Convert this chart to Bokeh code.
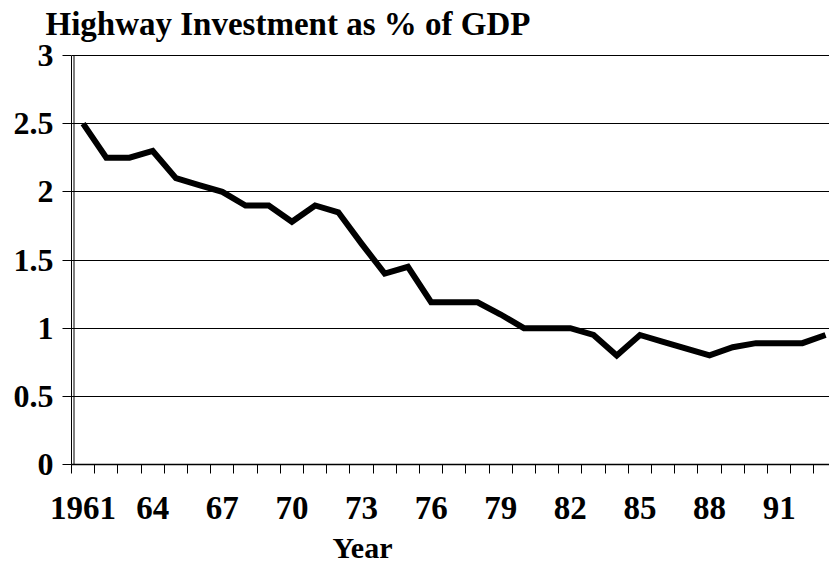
from bokeh.plotting import figure
from bokeh.models import FixedTicker, Range1d, Title
from bokeh.embed import file_html
from bokeh.resources import INLINE

# ---- data ----
years = list(range(1961, 1994))
invest_pct_gdp = [2.50, 2.25, 2.25, 2.30, 2.10, 2.05, 2.00, 1.90, 1.90, 1.78,
                  1.90, 1.85, 1.62, 1.40, 1.45, 1.19, 1.19, 1.19, 1.10, 1.00,
                  1.00, 1.00, 0.95, 0.80, 0.95, 0.90, 0.85, 0.80, 0.86, 0.89,
                  0.89, 0.89, 0.95]
xtick_years = [1961, 1964, 1967, 1970, 1973, 1976, 1979, 1982, 1985, 1988, 1991]
xtick_labels = ["1961", "64", "67", "70", "73", "76", "79", "82", "85", "88", "91"]
ytick_values = [0, 0.5, 1, 1.5, 2, 2.5, 3]
ytick_labels = ["0", "0.5", "1", "1.5", "2", "2.5", "3"]

FONT = "Liberation Serif"
W, H = 829, 571
BL, BT, BB = 71, 43, 107
FRAME_W = W - BL
FRAME_H = H - BT - BB
AXIS_H = 409  # pixels between 0 and 3

ymin, ymax = ytick_values[0], ytick_values[-1]
x0, x1 = years[0] - 0.5, 1993.17
y1 = ymin + (ymax - ymin) * FRAME_H / AXIS_H
p = figure(width=W, height=H, output_backend="svg", toolbar_location=None,
           x_range=Range1d(x0, x1), y_range=Range1d(ymin, y1),
           min_border_left=BL, min_border_top=BT, min_border_bottom=BB,
           min_border_right=0)
p.outline_line_color = None
p.background_fill_color = "white"
p.border_fill_color = "white"

p.title.text = "Highway Investment as % of GDP"
p.title.text_font = FONT
p.title.text_font_size = "33px"
p.title.text_font_style = "bold"
p.title.align = "left"
p.title.offset = -26
p.title.standoff = 4
p.title.text_color = "black"

p.line(years, invest_pct_gdp, line_color="black", line_width=6, line_join="miter")

# x axis: labels at category centres, ticks at category boundaries
xa = p.xaxis[0]
xa.ticker = FixedTicker(ticks=xtick_years,
                        minor_ticks=[y - 0.5 for y in years] + [years[-1] + 0.5])
xa.major_label_overrides = {y: l for y, l in zip(xtick_years, xtick_labels)}
xa.major_tick_out = 0
xa.major_tick_in = 0
xa.minor_tick_out = 9
xa.minor_tick_in = 0
xa.minor_tick_line_color = "black"
xa.axis_line_color = "black"
xa.axis_line_width = 1.5
xa.major_label_text_font = FONT
xa.major_label_text_font_size = "33px"
xa.major_label_text_font_style = "bold"
xa.major_label_text_color = "black"
xa.major_label_standoff = 23

# "Year" caption under the category axis
year_title = Title(text="Year", align="left", offset=261, vertical_align="bottom",
                   standoff=14, text_font=FONT, text_font_size="30px",
                   text_font_style="bold", text_color="black")
p.add_layout(year_title, "below")

ya = p.yaxis[0]
ya.ticker = FixedTicker(ticks=ytick_values)
ya.bounds = (ymin, ymax)
ya.major_label_overrides = {v: l for v, l in zip(ytick_values, ytick_labels)}
ya.major_tick_out = 9
ya.major_tick_in = 0
ya.minor_tick_out = 0
ya.minor_tick_in = 0
ya.major_tick_line_color = "black"
ya.axis_line_color = "black"
ya.major_label_text_font = FONT
ya.major_label_text_font_size = "32px"
ya.major_label_text_font_style = "bold"
ya.major_label_text_color = "black"
ya.major_label_standoff = 9

p.xgrid.visible = False
p.ygrid.grid_line_color = "black"
p.ygrid.grid_line_width = 1

# double line of the value axis
xd = x0 + 2.5 * (x1 - x0) / FRAME_W
p.segment(x0=[xd], y0=[ymin], x1=[xd], y1=[ymax], line_color="black", line_width=1)

open("out.html", "w").write(file_html(p, INLINE))
